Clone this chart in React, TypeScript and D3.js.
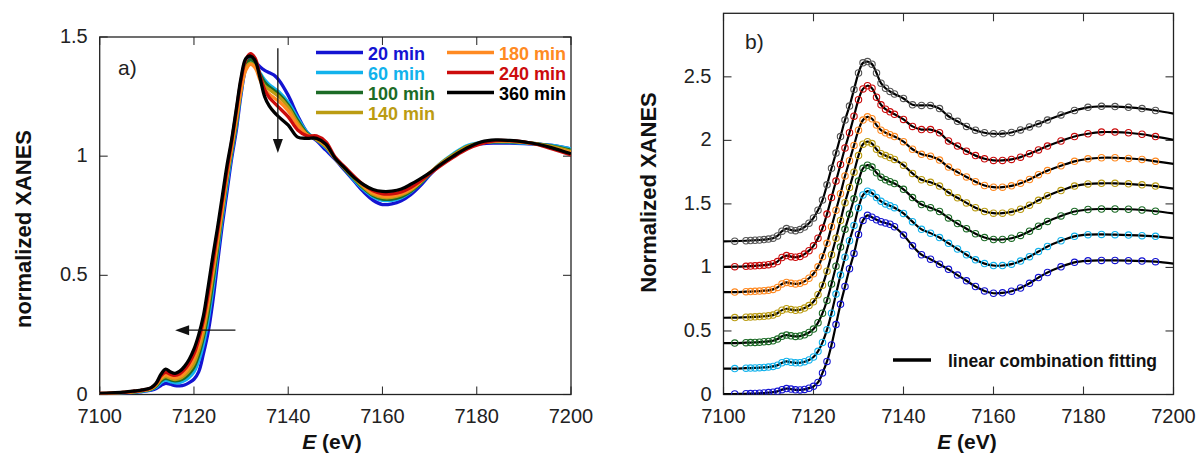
import React from 'react';
import * as d3 from 'd3';

// photon energy grid (eV)
const energy = [7100, 7102.5, 7105, 7106, 7107, 7108, 7109, 7110, 7111, 7112, 7113, 7114, 7115, 7116, 7117, 7118, 7119, 7120, 7121, 7122, 7123, 7124, 7125, 7126, 7127, 7128, 7129, 7130, 7131, 7132, 7133, 7134, 7135, 7136, 7137, 7138, 7140, 7142, 7144, 7146, 7148, 7150, 7152, 7154, 7156, 7158, 7160, 7162, 7164, 7166, 7168, 7170, 7172, 7175, 7178, 7181, 7184, 7187, 7190, 7193, 7196, 7200];

const min20 = [0.003, 0.004, 0.006, 0.007, 0.008, 0.010, 0.012, 0.015, 0.018, 0.025, 0.038, 0.047, 0.043, 0.037, 0.036, 0.040, 0.050, 0.064, 0.095, 0.17, 0.26, 0.39, 0.55, 0.71, 0.85, 0.99, 1.11, 1.26, 1.37, 1.41, 1.395, 1.375, 1.36, 1.35, 1.34, 1.32, 1.255, 1.17, 1.10, 1.065, 1.025, 0.985, 0.94, 0.895, 0.85, 0.815, 0.797, 0.800, 0.813, 0.838, 0.875, 0.92, 0.96, 1.005, 1.04, 1.052, 1.055, 1.055, 1.053, 1.05, 1.045, 1.03];
const min60 = [0.003, 0.004, 0.007, 0.008, 0.009, 0.011, 0.013, 0.016, 0.021, 0.031, 0.050, 0.060, 0.054, 0.049, 0.050, 0.058, 0.072, 0.095, 0.14, 0.21, 0.31, 0.44, 0.59, 0.74, 0.88, 1.01, 1.13, 1.27, 1.37, 1.40, 1.385, 1.35, 1.32, 1.30, 1.285, 1.27, 1.225, 1.16, 1.10, 1.07, 1.035, 0.99, 0.945, 0.90, 0.86, 0.83, 0.815, 0.815, 0.826, 0.85, 0.885, 0.925, 0.965, 1.01, 1.045, 1.058, 1.06, 1.058, 1.055, 1.05, 1.045, 1.03];
const min100 = [0.004, 0.005, 0.008, 0.009, 0.010, 0.012, 0.015, 0.018, 0.023, 0.036, 0.058, 0.068, 0.062, 0.057, 0.060, 0.070, 0.088, 0.115, 0.165, 0.24, 0.34, 0.47, 0.61, 0.76, 0.90, 1.02, 1.14, 1.28, 1.38, 1.405, 1.39, 1.345, 1.31, 1.29, 1.275, 1.26, 1.215, 1.15, 1.095, 1.07, 1.04, 0.99, 0.945, 0.905, 0.865, 0.835, 0.82, 0.82, 0.83, 0.852, 0.885, 0.925, 0.962, 1.005, 1.04, 1.056, 1.06, 1.06, 1.058, 1.052, 1.042, 1.025];
const min140 = [0.004, 0.005, 0.008, 0.009, 0.011, 0.013, 0.016, 0.019, 0.025, 0.040, 0.064, 0.075, 0.068, 0.063, 0.067, 0.080, 0.10, 0.13, 0.185, 0.26, 0.37, 0.50, 0.63, 0.77, 0.91, 1.03, 1.15, 1.28, 1.37, 1.39, 1.375, 1.33, 1.295, 1.28, 1.265, 1.25, 1.205, 1.14, 1.09, 1.07, 1.04, 0.99, 0.948, 0.908, 0.87, 0.84, 0.827, 0.827, 0.837, 0.858, 0.89, 0.928, 0.964, 1.005, 1.04, 1.057, 1.062, 1.062, 1.058, 1.05, 1.04, 1.02];
const min180 = [0.005, 0.006, 0.009, 0.010, 0.012, 0.014, 0.017, 0.020, 0.027, 0.043, 0.070, 0.082, 0.075, 0.070, 0.075, 0.090, 0.115, 0.15, 0.205, 0.285, 0.39, 0.52, 0.65, 0.78, 0.92, 1.04, 1.16, 1.28, 1.36, 1.385, 1.37, 1.32, 1.28, 1.26, 1.245, 1.23, 1.19, 1.13, 1.09, 1.075, 1.045, 0.99, 0.95, 0.912, 0.875, 0.845, 0.832, 0.832, 0.842, 0.862, 0.892, 0.93, 0.962, 1.0, 1.035, 1.055, 1.063, 1.063, 1.058, 1.05, 1.035, 1.015];
const min240 = [0.005, 0.006, 0.009, 0.011, 0.013, 0.015, 0.018, 0.022, 0.029, 0.046, 0.078, 0.093, 0.085, 0.080, 0.087, 0.105, 0.132, 0.17, 0.23, 0.31, 0.42, 0.55, 0.68, 0.81, 0.94, 1.06, 1.19, 1.32, 1.405, 1.43, 1.41, 1.34, 1.28, 1.245, 1.225, 1.205, 1.165, 1.11, 1.085, 1.085, 1.06, 0.995, 0.955, 0.915, 0.88, 0.855, 0.842, 0.842, 0.85, 0.868, 0.895, 0.925, 0.955, 0.995, 1.03, 1.052, 1.065, 1.065, 1.06, 1.048, 1.03, 1.005];
const min360 = [0.005, 0.007, 0.010, 0.012, 0.014, 0.016, 0.019, 0.023, 0.030, 0.048, 0.085, 0.106, 0.095, 0.089, 0.098, 0.118, 0.148, 0.19, 0.25, 0.33, 0.45, 0.58, 0.70, 0.83, 0.96, 1.07, 1.20, 1.33, 1.41, 1.42, 1.40, 1.33, 1.25, 1.21, 1.185, 1.165, 1.13, 1.08, 1.075, 1.075, 1.05, 0.99, 0.95, 0.91, 0.88, 0.86, 0.852, 0.853, 0.862, 0.882, 0.905, 0.93, 0.96, 1.0, 1.035, 1.06, 1.068, 1.066, 1.06, 1.05, 1.035, 1.01];

const labels = ['20 min', '60 min', '100 min', '140 min', '180 min', '240 min', '360 min'];
const colors = ['#1414d2', '#12b2ec', '#1c6b26', '#bb9c12', '#ff8a22', '#cc0c0c', '#000000'];
const offsets = [0, 0.2, 0.4, 0.6, 0.8, 1.0, 1.2];
const xTicks = [7100, 7120, 7140, 7160, 7180, 7200];
const yTicksA = [0, 0.5, 1, 1.5];
const yTicksB = [0, 0.5, 1, 1.5, 2, 2.5];

const allSeries = [min20, min60, min100, min140, min180, min240, min360];

const FONT = '"Liberation Sans", Arial, Helvetica, sans-serif';

function Frame({ x, y, xticks, yticks, id }) {
  const [x0, x1] = x.range();
  const [y0, y1] = y.range();
  const tl = 8;
  return (
    <g>
      <defs>
        <clipPath id={id}>
          <rect x={x0} y={y1} width={x1 - x0} height={y0 - y1} />
        </clipPath>
      </defs>
      {xticks.map(t => (
        <g key={'x' + t}>
          <line x1={x(t)} x2={x(t)} y1={y0} y2={y0 - tl} stroke="#333" strokeWidth={1.1} />
          <line x1={x(t)} x2={x(t)} y1={y1} y2={y1 + tl} stroke="#333" strokeWidth={1.1} />
          <text x={x(t)} y={423} textAnchor="middle" fontSize={20} fill="#222">{t}</text>
        </g>
      ))}
      {yticks.map(t => (
        <g key={'y' + t}>
          <line x1={x0} x2={x0 + tl} y1={y(t)} y2={y(t)} stroke="#333" strokeWidth={1.1} />
          <line x1={x1} x2={x1 - tl} y1={y(t)} y2={y(t)} stroke="#333" strokeWidth={1.1} />
          <text x={x0 - 12} y={y(t) + 6} textAnchor="end" fontSize={20} fill="#222">{String(t)}</text>
        </g>
      ))}
      <rect x={x0} y={y1} width={x1 - x0} height={y0 - y1} fill="none" stroke="#222" strokeWidth={1.3} />
    </g>
  );
}

export default function App() {
  const xa = d3.scaleLinear().domain([7100, 7200]).range([99.7, 571]);
  const ya = d3.scaleLinear().domain([0, 1.5]).range([394.5, 37]);
  const xb = d3.scaleLinear().domain([7100, 7200]).range([723.5, 1173.5]);
  const yb = d3.scaleLinear().domain([0, 3]).range([394.5, 13.3]);

  const lineA = d3.line<number>()
    .x((_, i) => xa(energy[i]))
    .y(v => ya(v))
    .curve(d3.curveCatmullRom.alpha(0.5));

  const lineB = (off: number) => d3.line<number>()
    .x((_, i) => xb(energy[i]))
    .y(v => yb(v + off))
    .curve(d3.curveCatmullRom.alpha(0.5));

  // arrows (data coordinates)
  const vArrowE = 7137.8;
  const vx = xa(vArrowE);
  const vTop = ya(1.453);
  const vTip = ya(1.013);
  const hy = ya(0.27);
  const hStart = xa(7128.8);
  const hTip = xa(7116);

  return (
    <svg width={1201} height={454} style={{ position: 'absolute', left: 0, top: 0, background: '#fff' }} fontFamily={FONT}>
      {/* panel a */}
      <Frame x={xa} y={ya} xticks={xTicks} yticks={yTicksA} id="clipA" />
      <g clipPath="url(#clipA)">
        {allSeries.map((s, i) => (
          <path key={i} d={lineA(s) || ''} fill="none" stroke={colors[i]} strokeWidth={3.3} strokeLinejoin="round" />
        ))}
      </g>
      <text x={118} y={75} fontSize={21} fill="#222">a)</text>
      {labels.map((lab, i) => {
        const col = i < 4 ? 0 : 1;
        const row = i < 4 ? i : i - 4;
        const lx = col === 0 ? 316 : 447;
        const ly = 52.5 + row * 20;
        return (
          <g key={lab}>
            <line x1={lx} x2={lx + 47} y1={ly} y2={ly} stroke={colors[i]} strokeWidth={3.5} />
            <text x={lx + 52} y={ly + 7} fontSize={18} fontWeight="bold" fill={colors[i]}>{lab}</text>
          </g>
        );
      })}
      <line x1={vx} x2={vx} y1={vTop} y2={vTip - 12} stroke="#111" strokeWidth={1.3} />
      <path d={`M${vx - 5},${vTip - 14} L${vx + 5},${vTip - 14} L${vx},${vTip} Z`} fill="#111" />
      <line x1={hStart} x2={hTip + 12} y1={hy} y2={hy} stroke="#111" strokeWidth={1.3} />
      <path d={`M${hTip + 14},${hy - 5} L${hTip + 14},${hy + 5} L${hTip},${hy} Z`} fill="#111" />
      <text transform="translate(30.5,229) rotate(-90)" textAnchor="middle" fontSize={22} fontWeight="bold" fill="#111">normalized XANES</text>
      <text x={332} y={449} textAnchor="middle" fontSize={21} fontWeight="bold" fill="#111">
        <tspan fontStyle="italic">E</tspan> (eV)
      </text>

      {/* panel b */}
      <Frame x={xb} y={yb} xticks={xTicks} yticks={yTicksB} id="clipB" />
      <g clipPath="url(#clipB)">
        {allSeries.map((s, i) => (
          <g key={i}>
            <path d={lineB(offsets[i])(s) || ''} fill="none" stroke="#000" strokeWidth={2.2} />
            {s.map((v, j) => (j === 0 || j === s.length - 1) ? null : (
              <circle key={j} cx={xb(energy[j])} cy={yb(v + offsets[i])} r={3.2} fill="none"
                stroke={i === 6 ? '#555' : colors[i]} strokeWidth={1.1} />
            ))}
          </g>
        ))}
      </g>
      <text x={745} y={49} fontSize={21} fill="#222">b)</text>
      <line x1={893} x2={931} y1={360} y2={360} stroke="#000" strokeWidth={3.5} />
      <text x={948} y={366.5} fontSize={17.5} fontWeight="bold" fill="#111">linear combination fitting</text>
      <text transform="translate(655.5,192.5) rotate(-90)" textAnchor="middle" fontSize={22} fontWeight="bold" fill="#111">Normalized XANES</text>
      <text x={967} y={449} textAnchor="middle" fontSize={21} fontWeight="bold" fill="#111">
        <tspan fontStyle="italic">E</tspan> (eV)
      </text>
    </svg>
  );
}
